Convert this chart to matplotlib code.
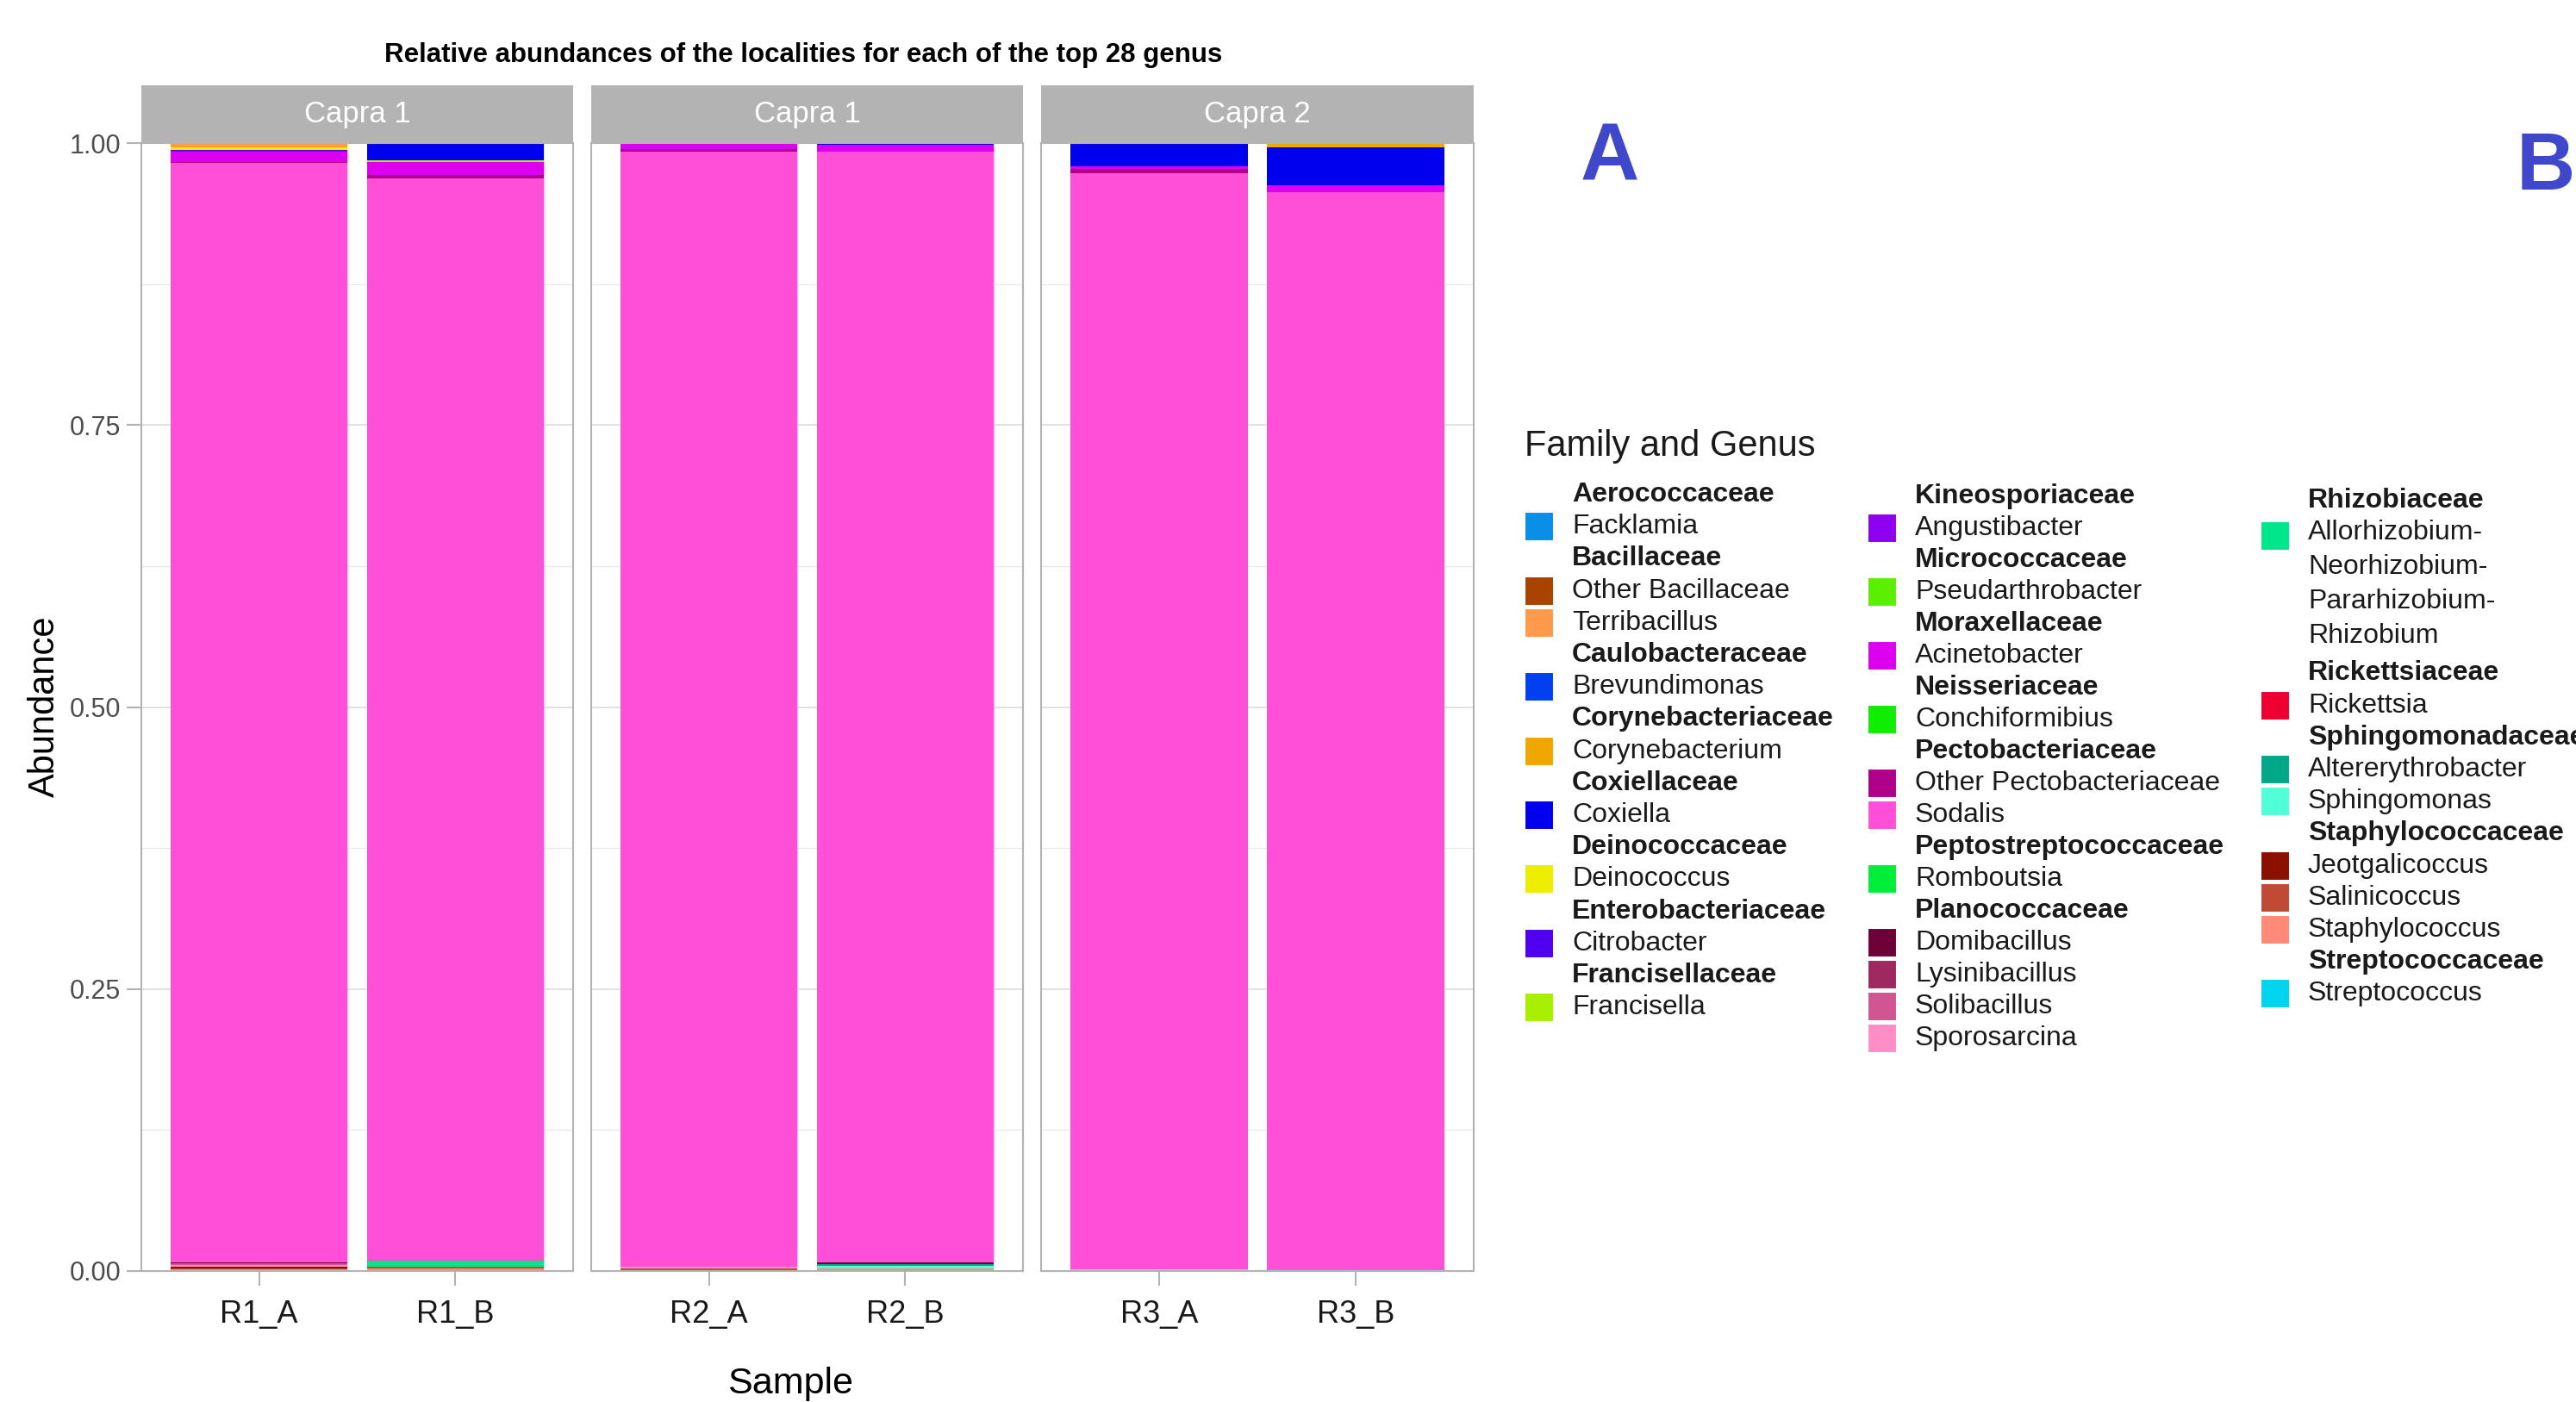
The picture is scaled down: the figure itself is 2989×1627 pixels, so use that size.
import numpy as np
import matplotlib
matplotlib.use("Agg")
import matplotlib.pyplot as plt
from matplotlib.patches import Rectangle

plt.rcParams['font.family'] = ['Liberation Sans', 'DejaVu Sans']

# ---- data (top of stack first, same order as the legend) ----
families = ["Aerococcaceae", "Bacillaceae", "Bacillaceae", "Caulobacteraceae",
            "Corynebacteriaceae", "Coxiellaceae", "Deinococcaceae", "Enterobacteriaceae",
            "Francisellaceae", "Kineosporiaceae", "Micrococcaceae", "Moraxellaceae",
            "Neisseriaceae", "Pectobacteriaceae", "Pectobacteriaceae", "Peptostreptococcaceae",
            "Planococcaceae", "Planococcaceae", "Planococcaceae", "Planococcaceae",
            "Rhizobiaceae", "Rickettsiaceae", "Sphingomonadaceae", "Sphingomonadaceae",
            "Staphylococcaceae", "Staphylococcaceae", "Staphylococcaceae", "Streptococcaceae"]
genera = ["Facklamia", "Other Bacillaceae", "Terribacillus", "Brevundimonas",
          "Corynebacterium", "Coxiella", "Deinococcus", "Citrobacter",
          "Francisella", "Angustibacter", "Pseudarthrobacter", "Acinetobacter",
          "Conchiformibius", "Other Pectobacteriaceae", "Sodalis", "Romboutsia",
          "Domibacillus", "Lysinibacillus", "Solibacillus", "Sporosarcina",
          "Allorhizobium-\nNeorhizobium-\nPararhizobium-\nRhizobium", "Rickettsia",
          "Altererythrobacter", "Sphingomonas",
          "Jeotgalicoccus", "Salinicoccus", "Staphylococcus", "Streptococcus"]
colors = ["#0A8FE8", "#A84300", "#FF9A4D", "#0040F0",
          "#F0A800", "#0000EE", "#EEEE00", "#5000EE",
          "#A8F000", "#9000F0", "#5BF000", "#DD00EE",
          "#10EE00", "#B0008A", "#FF4FD8", "#00EE38",
          "#6E0038", "#A02860", "#D05590", "#FF8EC8",
          "#00E68A", "#EE0030", "#00A88A", "#50FFD8",
          "#8B1000", "#C04A36", "#FF8A78", "#00D4EE"]

samples = ["R1_A", "R1_B", "R2_A", "R2_B", "R3_A", "R3_B"]
facets = ["Capra 1", "Capra 1", "Capra 2"]

r1_a = [0, 0.0003, 0.0025, 0, 0.001, 0, 0.0025, 0.0005, 0, 0.0005, 0, 0.0097, 0, 0.0003,
        0.9747, 0, 0.0015, 0, 0.001, 0.0015, 0, 0, 0, 0, 0.0015, 0.001, 0.0015, 0]
r1_b = [0, 0, 0, 0.001, 0, 0.014, 0, 0.0003, 0.0015, 0, 0, 0.0115, 0, 0.003,
        0.9599, 0.0005, 0, 0, 0, 0, 0.0045, 0.0003, 0, 0, 0, 0.0015, 0.002, 0]
r2_a = [0, 0, 0, 0, 0, 0, 0, 0.001, 0, 0, 0, 0.0045, 0, 0.0025,
        0.988, 0, 0, 0, 0, 0.0015, 0, 0, 0, 0, 0.0005, 0.002, 0, 0]
r2_b = [0, 0, 0, 0, 0, 0.0015, 0, 0, 0, 0, 0, 0.006, 0, 0,
        0.9852, 0, 0.0013, 0, 0, 0, 0, 0, 0.0015, 0.0025, 0, 0, 0.002, 0]
r3_a = [0, 0, 0, 0, 0, 0.021, 0, 0, 0, 0, 0, 0.002, 0, 0.0036,
        0.9719, 0, 0, 0, 0, 0, 0, 0, 0, 0.0015, 0, 0, 0, 0]
r3_b = [0, 0, 0, 0.0003, 0.0036, 0.0334, 0, 0, 0, 0, 0, 0.0064, 0, 0,
        0.9545, 0, 0, 0, 0, 0, 0, 0, 0, 0, 0, 0, 0, 0.0018]

sample_values = [r1_a, r1_b, r2_a, r2_b, r3_a, r3_b]

# ---- figure ----
W, H = 2989, 1627
fig = plt.figure(figsize=(W / 100, H / 100), dpi=100)

def fx(px):
    return px / W

def fy(py):
    return 1 - py / H

panel_x = [(164, 665), (686, 1187), (1208, 1710)]
top_px, bot_px = 166, 1475
strip_top = 99
gray70 = "#B3B3B3"

for p, (x0, x1) in enumerate(panel_x):
    ax = fig.add_axes([fx(x0), fy(bot_px), fx(x1 - x0), (bot_px - top_px) / H])
    ax.set_xlim(0.4, 2.6)
    ax.set_ylim(0, 1)
    ax.set_yticks([0, 0.25, 0.5, 0.75, 1.0])
    ax.set_yticks([0.125, 0.375, 0.625, 0.875], minor=True)
    ax.set_xticks([1, 2])
    ax.grid(which="major", color="#DEDEDE", linewidth=1.3)
    ax.grid(which="minor", axis="y", color="#E8E8E8", linewidth=0.9)
    ax.set_axisbelow(True)
    for s in ax.spines.values():
        s.set_color(gray70)
        s.set_linewidth(1.5)

    for b in range(2):
        vals = sample_values[p * 2 + b]
        bottom = 0.0
        for g in range(len(genera) - 1, -1, -1):
            if vals[g] > 0:
                ax.bar(b + 1, vals[g], width=0.9, bottom=bottom, color=colors[g],
                       linewidth=0)
                bottom += vals[g]

    ax.set_xticklabels(samples[p * 2:p * 2 + 2], fontsize=26, color="#1A1A1A")
    ax.tick_params(axis="x", which="both", length=12, width=1.5, color=gray70, pad=12)
    ax.tick_params(axis="y", which="minor", length=0)
    if p == 0:
        ax.set_yticklabels(["0.00", "0.25", "0.50", "0.75", "1.00"], fontsize=22,
                           color="#4D4D4D")
        ax.tick_params(axis="y", which="major", length=12, width=1.5, color=gray70, pad=5)
    else:
        ax.tick_params(axis="y", which="major", length=0, labelleft=False)

    sax = fig.add_axes([fx(x0), fy(top_px), fx(x1 - x0), (top_px - strip_top) / H])
    sax.set_facecolor(gray70)
    sax.set_xticks([])
    sax.set_yticks([])
    for s in sax.spines.values():
        s.set_visible(False)
    sax.text(0.5, 0.5, facets[p], color="white", fontsize=25, ha="center", va="center",
             transform=sax.transAxes)

fig.text(fx(932), fy(64), "Relative abundances of the localities for each of the top 28 genus",
         fontsize=22.5, fontweight="bold", ha="center", va="center")
fig.text(fx(52), fy(820), "Abundance", fontsize=30, rotation=90, ha="center", va="center")
fig.text(fx(917), fy(1586), "Sample", fontsize=31, ha="center", va="top")

# panel letters
fig.text(fx(1834), fy(185), "A", fontsize=68, fontweight="bold", color="#3F48CC",
         ha="left", va="center")
fig.text(fx(2920), fy(196), "B", fontsize=68, fontweight="bold", color="#3F48CC",
         ha="left", va="center")

# ---- legend ----
fig.text(fx(1769), fy(518), "Family and Genus", fontsize=30, ha="left", va="center",
         color="#1A1A1A")
col_starts = [0, 9, 20]
col_key_x = [1769, 2167, 2623]
col_first_y = [574, 576, 581]
col_step = [37.2, 37.0, 37.2]
wrap_step = 40.0
wrap_gap = 6.0
key_size = 34
for c in range(3):
    g_end = col_starts[c + 1] if c < 2 else len(genera)
    y = col_first_y[c]
    kx = col_key_x[c]
    tx = kx + 55
    for g in range(col_starts[c], g_end):
        if g == 0 or families[g] != families[g - 1]:
            fig.text(fx(tx), fy(y), families[g], fontsize=23, fontweight="bold",
                     ha="left", va="center", color="#1A1A1A")
            y += col_step[c]
        lines = genera[g].split("\n")
        key_y = y + (4 if len(lines) > 1 else 0)
        fig.patches.append(Rectangle((fx(kx), fy(key_y + key_size / 2)), fx(key_size),
                                     key_size / H, transform=fig.transFigure,
                                     facecolor=colors[g], edgecolor="white",
                                     linewidth=1.5, figure=fig))
        for i, line in enumerate(lines):
            fig.text(fx(tx), fy(y), line, fontsize=23, ha="left", va="center",
                     color="#1A1A1A")
            if i < len(lines) - 1:
                y += wrap_step
        y += col_step[c] + (wrap_gap if len(lines) > 1 else 0)

fig.savefig("out.png", dpi=100, facecolor="white")
